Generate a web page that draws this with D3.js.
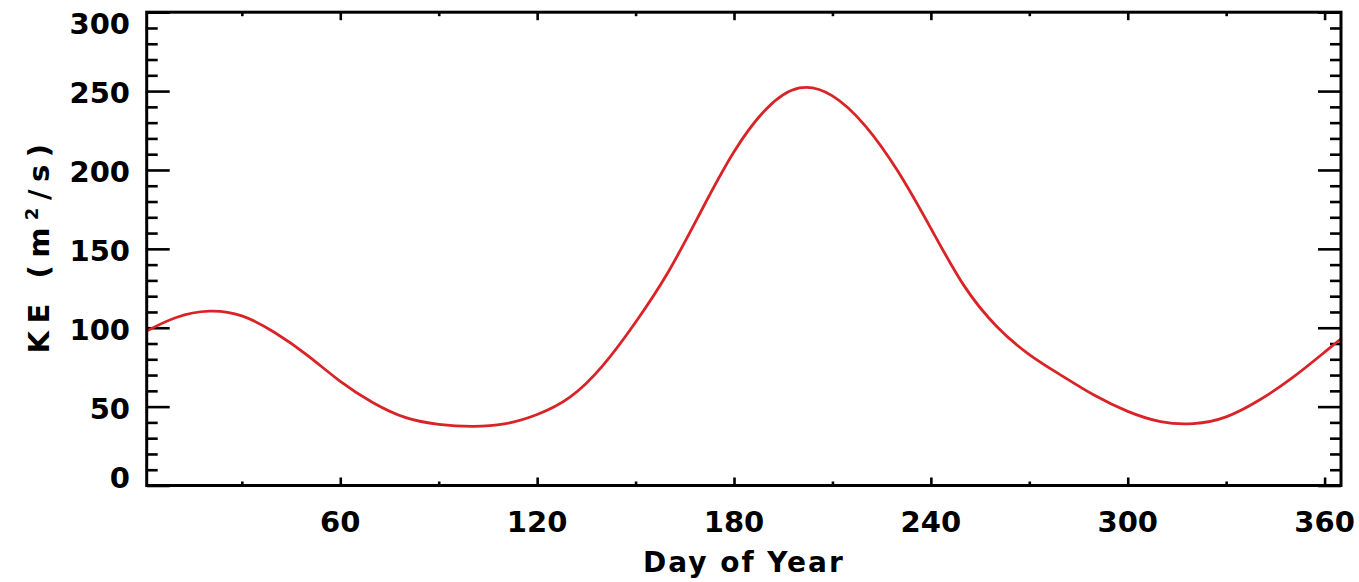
<!DOCTYPE html>
<html>
<head>
<meta charset="utf-8">
<script src="https://cdn.jsdelivr.net/npm/d3@7"></script>
<style>
  html, body { margin: 0; padding: 0; background: #fff; }
  svg { display: block; }
  text { font-family: "DejaVu Sans", sans-serif; font-weight: bold; fill: #000; }
</style>
</head>
<body>
<svg id="chart" width="1359" height="582"></svg>
<script>
// ---- data ----
const days = [1, 10, 20, 30, 40, 50, 60, 70, 80, 90, 100, 110, 120, 130, 140, 150, 160, 170, 180, 190,
              200, 210, 220, 230, 240, 250, 260, 270, 280, 290, 300, 310, 320, 330, 340, 350, 360, 365];
const keValues = [98, 106.5, 110.5, 107.5, 97, 82.5, 66, 52.5, 43, 38.8, 37.5, 39, 45, 56, 76, 103.5, 135.5, 174, 211.5, 239,
              252, 247, 228, 199, 163, 127, 101, 83, 69.5, 57, 47, 40.5, 39.2, 43.5, 54, 68, 84.5, 93];
const xMajorTicks = [60, 120, 180, 240, 300, 360];
const xMinorTicks = [30, 90, 150, 210, 270, 330];
const yMajorTicks = [0, 50, 100, 150, 200, 250, 300];
const yMinorTicks = d3.range(0, 301, 10).filter(v => v % 50 !== 0);
const xTitle = "Day of Year";

// ---- layout ----
const svg = d3.select("#chart");
const mLeft = 146.7, mRight = 1341, mTop = 12.2, mBottom = 485.5;
const x = d3.scaleLinear().domain([1, 365]).range([mLeft, mRight]);
const y = d3.scaleLinear().domain([0, 300]).range([mBottom, mTop]);

function styleAxis(g) {
  g.select(".domain").remove();
  g.selectAll(".tick line").attr("stroke", "#000").attr("stroke-width", 2.6);
  g.selectAll(".tick text").remove();
}

// left axis ticks (inward)
svg.append("g").attr("transform", `translate(${mLeft},0)`)
  .call(d3.axisLeft(y).tickValues(yMajorTicks).tickSize(-23)).call(styleAxis);
svg.append("g").attr("transform", `translate(${mLeft},0)`)
  .call(d3.axisLeft(y).tickValues(yMinorTicks).tickSize(-11)).call(styleAxis);
// right axis ticks (inward)
svg.append("g").attr("transform", `translate(${mRight},0)`)
  .call(d3.axisRight(y).tickValues(yMajorTicks).tickSize(-23)).call(styleAxis);
svg.append("g").attr("transform", `translate(${mRight},0)`)
  .call(d3.axisRight(y).tickValues(yMinorTicks).tickSize(-11)).call(styleAxis);
// bottom axis ticks (inward)
svg.append("g").attr("transform", `translate(0,${mBottom})`)
  .call(d3.axisBottom(x).tickValues(xMajorTicks).tickSize(-8)).call(styleAxis);
svg.append("g").attr("transform", `translate(0,${mBottom})`)
  .call(d3.axisBottom(x).tickValues(xMinorTicks).tickSize(-4)).call(styleAxis);
// top axis ticks (inward)
svg.append("g").attr("transform", `translate(0,${mTop})`)
  .call(d3.axisTop(x).tickValues(xMajorTicks).tickSize(-8)).call(styleAxis);
svg.append("g").attr("transform", `translate(0,${mTop})`)
  .call(d3.axisTop(x).tickValues(xMinorTicks).tickSize(-4)).call(styleAxis);

// curve
const data = days.map((d, i) => ({ d, v: keValues[i] }));
svg.append("path")
  .datum(data)
  .attr("fill", "none")
  .attr("stroke", "#d92327")
  .attr("stroke-width", 2.8)
  .attr("d", d3.line().x(p => x(p.d)).y(p => y(p.v)).curve(d3.curveNatural));

// frame
svg.append("rect")
  .attr("x", mLeft).attr("y", mTop)
  .attr("width", mRight - mLeft).attr("height", mBottom - mTop)
  .attr("fill", "none").attr("stroke", "#000").attr("stroke-width", 3);

// y tick labels
svg.append("g").selectAll("text").data(yMajorTicks).join("text")
  .attr("x", 130)
  .attr("y", v => Math.max(24, Math.min(478, y(v) + 1.5)))
  .attr("dy", "0.36em")
  .attr("text-anchor", "end")
  .attr("font-size", 29)
  .text(v => v);

// x tick labels
svg.append("g").selectAll("text").data(xMajorTicks).join("text")
  .attr("x", v => x(v))
  .attr("y", 532)
  .attr("text-anchor", "middle")
  .attr("font-size", 29)
  .text(v => v);

// x title
svg.append("text")
  .attr("x", (mLeft + mRight) / 2)
  .attr("y", 572)
  .attr("text-anchor", "middle")
  .attr("font-size", 28)
  .attr("letter-spacing", 2)
  .text(xTitle);

// y title with superscript
const yt = svg.append("text")
  .attr("transform", "translate(49,245) rotate(-90)")
  .attr("text-anchor", "middle")
  .attr("font-size", 29)
  .attr("letter-spacing", 7.5);
yt.append("tspan").text("KE (m");
yt.append("tspan").attr("font-size", 18).attr("dy", -11).text("2");
yt.append("tspan").attr("dy", 11).text("/s)");
</script>
</body>
</html>
